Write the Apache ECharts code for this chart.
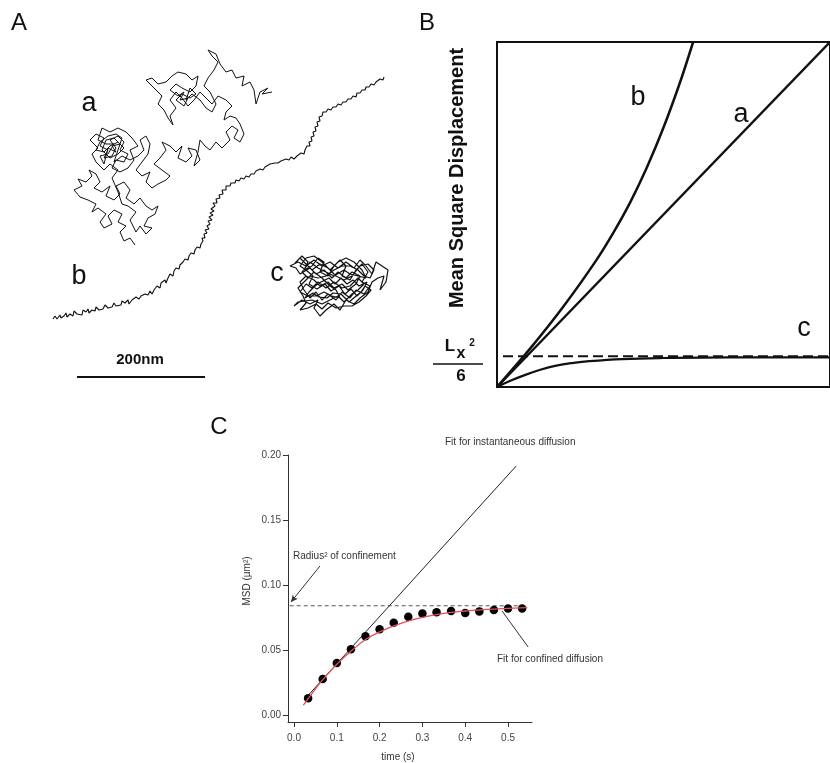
<!DOCTYPE html>
<html><head><meta charset="utf-8">
<script src="https://cdn.jsdelivr.net/npm/echarts@6/dist/echarts.min.js"></script>
<style>html,body{margin:0;padding:0;background:#fff}#c{width:830px;height:763px}</style>
</head><body><div id="c"></div>
<script>
// ---------- Panel A: single-particle trajectories (reference units; 128 units = 200 nm) ----------
const trajA = [[135,245],[130,238],[124,241],[120,232],[126,226],[118,222],[122,214],[114,210],[108,216],[112,224],[104,228],[100,222],[106,214],[98,208],[92,212],[96,204],[88,200],[80,197],[74,190],[82,186],[78,179],[86,182],[92,176],[89,170],[96,174],[100,182],[94,188],[102,192],[110,186],[106,196],[114,200],[120,194],[116,186],[124,182],[130,190],[126,198],[134,204],[140,198],[146,206],[152,210],[158,206],[155,214],[148,218],[144,226],[152,228],[146,234],[140,226],[136,232],[130,220],[136,212],[128,206],[122,204],[118,192],[112,178],[118,170],[110,164],[104,170],[96,162],[92,154],[98,148],[90,140],[96,134],[104,138],[100,146],[108,150],[104,158],[112,156],[116,148],[110,140],[118,136],[124,142],[120,150],[128,154],[124,162],[116,160],[112,168],[120,172],[128,168],[134,160],[130,150],[138,146],[132,138],[126,132],[118,128],[110,132],[102,128],[98,140],[106,144],[114,144],[108,154],[100,156],[104,164],[108,148],[116,152],[112,146],[120,144],[114,138],[106,140],[102,150],[110,158],[118,154],[124,148],[118,142],[110,146],[104,152],[96,150],[100,142],[108,136],[116,134],[122,138],[114,162],[122,156],[130,160],[138,156],[144,150],[140,140],[146,136],[150,144],[148,154],[142,162],[136,170],[142,176],[150,172],[146,182],[152,188],[158,184],[166,180],[170,176],[162,170],[154,164],[160,158],[166,150],[162,142],[170,146],[176,152],[182,146],[178,158],[186,162],[192,156],[188,148],[196,150],[200,160],[194,166],[198,152],[200,140],[205,146],[210,150],[216,142],[222,148],[230,140],[226,132],[232,126],[238,130],[234,138],[240,142],[244,134],[240,124],[236,118],[230,116],[224,120],[226,112],[232,106],[226,100],[218,96],[212,104],[206,98],[200,92],[194,100],[188,106],[182,98],[176,92],[170,100],[176,108],[170,116],[173,125],[168,118],[164,110],[158,104],[162,96],[156,90],[150,84],[146,80],[152,78],[158,84],[166,82],[172,76],[178,72],[186,74],[192,80],[198,76],[196,86],[190,92],[182,88],[176,84],[170,90],[178,96],[184,92],[180,100],[188,98],[184,106],[176,100],[182,94],[190,98],[196,94],[190,88],[186,100],[192,94],[200,100],[206,108],[212,112],[216,104],[210,92],[204,86],[208,78],[214,70],[218,62],[212,56],[208,50],[216,54],[220,64],[226,72],[232,70],[236,78],[244,76],[242,86],[250,82],[254,90],[256,104],[260,92],[268,88],[262,94],[272,92]];
const trajB = [[53,319],[55,316],[57,319],[60,315],[61,318],[64,316],[66,313],[67,317],[70,314],[73,316],[74,311],[77,314],[79,312],[82,315],[83,310],[86,312],[88,309],[89,313],[92,310],[95,311],[96,307],[99,310],[101,308],[103,309],[105,305],[108,308],[109,306],[112,307],[114,303],[116,306],[118,304],[121,305],[122,301],[125,303],[128,300],[129,304],[132,300],[134,301],[136,297],[139,299],[141,296],[143,298],[145,294],[148,295],[150,291],[152,294],[154,290],[156,291],[157,286],[160,288],[161,283],[163,285],[165,280],[166,283],[168,278],[170,279],[170,274],[173,276],[174,271],[176,272],[176,268],[179,269],[180,265],[181,267],[183,262],[185,263],[185,259],[188,260],[189,256],[191,258],[191,253],[194,254],[195,250],[197,251],[197,247],[200,248],[201,244],[199,242],[203,241],[202,238],[205,238],[204,234],[207,233],[205,230],[209,229],[207,226],[210,224],[208,221],[212,220],[209,217],[213,215],[210,213],[214,211],[211,209],[215,206],[213,203],[217,203],[216,199],[220,198],[219,195],[223,194],[222,190],[226,190],[226,186],[230,186],[231,183],[235,183],[236,180],[239,181],[241,178],[244,179],[246,176],[249,177],[251,174],[254,174],[256,171],[258,173],[260,169],[263,170],[265,167],[267,168],[270,164],[272,166],[275,163],[278,163],[281,161],[283,162],[286,159],[289,160],[291,157],[294,159],[297,156],[299,157],[301,153],[304,154],[305,150],[307,151],[307,146],[310,146],[309,142],[312,141],[311,137],[314,136],[313,132],[316,131],[315,127],[318,126],[317,122],[320,121],[319,117],[322,116],[323,112],[326,112],[328,109],[331,110],[333,107],[336,107],[338,104],[341,105],[343,102],[346,102],[348,99],[351,99],[353,96],[356,97],[357,93],[360,93],[362,90],[365,90],[366,87],[369,87],[371,84],[374,85],[376,82],[378,83],[380,79],[383,80],[384,77]];
const trajC = [[295,263],[302,256],[308,262],[304,270],[312,266],[318,258],[324,262],[320,272],[328,276],[334,266],[340,260],[346,266],[342,276],[350,280],[356,270],[362,264],[368,272],[362,282],[370,286],[364,294],[356,290],[350,298],[342,292],[336,300],[328,294],[322,300],[316,292],[310,298],[304,290],[300,282],[306,276],[314,280],[320,286],[328,282],[334,288],[342,284],[348,290],[356,284],[360,276],[352,272],[346,278],[338,272],[332,278],[324,270],[316,274],[310,268],[300,274],[296,268],[290,266],[298,262],[306,266],[314,260],[322,266],[330,262],[338,268],[346,262],[354,268],[360,260],[366,266],[372,274],[376,262],[388,270],[386,282],[380,290],[384,276],[378,278],[372,282],[368,292],[360,298],[354,304],[346,300],[340,310],[334,304],[326,310],[320,316],[314,308],[318,300],[310,304],[302,300],[294,306],[298,302],[312,300],[322,304],[330,300],[338,296],[344,302],[352,294],[358,290],[364,284],[358,278],[350,286],[342,288],[334,282],[326,288],[318,282],[312,288],[306,284],[300,292],[308,296],[316,296],[324,292],[332,296],[340,298],[336,290],[330,286],[322,278],[314,272],[308,278],[302,272],[310,262],[318,268],[326,272],[334,276],[344,270],[350,274],[358,276],[366,278],[362,270],[354,262],[346,258],[338,262],[330,270],[322,262],[314,256],[306,258],[300,266],[306,270],[313,276],[309,284],[317,289],[325,284],[331,291],[339,286],[345,294],[351,289],[357,296],[363,290],[367,282],[359,286],[353,280],[347,284],[341,278],[335,284],[329,278],[321,282],[315,286],[309,292],[305,298],[313,293],[319,297],[327,298],[333,293],[341,294],[349,302],[355,297],[361,292],[365,286],[371,290],[366,296],[359,302],[352,306],[344,306],[336,308],[328,303],[322,309],[316,304],[308,308],[300,310],[306,303],[303,296],[298,288],[304,282],[310,276],[318,278],[326,276],[334,270],[342,266],[350,266],[358,270],[364,276],[370,278],[374,270],[368,264],[360,266],[352,276],[344,280],[336,276],[328,268],[320,264],[312,270],[306,264],[300,258]];
const scaleBarStart = [77, 377];
const scaleBarUnits = 128;   // = 200 nm
const scaleBarLabel = '200nm';

// ---------- Panel B: schematic MSD curves (normalised) ----------
const msdNormal   = [[0,0],[1,1]];
const msdDirected = [[0,0],[0.1,0.112],[0.2,0.234],[0.3,0.37],[0.35,0.448],[0.4,0.535],[0.45,0.636],[0.5,0.752],[0.55,0.884],[0.589,1.0]];
const msdConfined = [[0,0],[0.04,0.018],[0.079,0.033],[0.13,0.050],[0.178,0.062],[0.23,0.070],[0.277,0.075],[0.377,0.081],[0.5,0.084],[0.7,0.086],[1,0.086]];
const plateauLevel = 0.089;

// ---------- Panel C: measured MSD ----------
const timeS = [0.033,0.067,0.100,0.133,0.167,0.200,0.233,0.267,0.300,0.333,0.367,0.400,0.433,0.467,0.500,0.533];
const msdUm2 = [0.0128,0.0277,0.0400,0.0505,0.0605,0.0660,0.0710,0.0756,0.0780,0.0790,0.0800,0.0785,0.0797,0.0808,0.0820,0.0820];
const confinedFitT = [0.022,0.033,0.05,0.067,0.1,0.133,0.167,0.2,0.25,0.3,0.35,0.4,0.45,0.5,0.545];
const confinedFitV = [0.0075,0.0125,0.0200,0.0270,0.0390,0.0490,0.0580,0.0640,0.0705,0.0750,0.0782,0.0800,0.0812,0.0820,0.0826];
const instantFit = [[0.030,0.014],[0.519,0.1915]];
const radiusSq = 0.084;
const xTicks = [0,0.1,0.2,0.3,0.4,0.5];
const yTicks = [0,0.05,0.10,0.15,0.20];

const FONT = '"Liberation Sans", Arial, Helvetica, sans-serif';
const chart = echarts.init(document.getElementById('c'), null, {renderer:'canvas'});

function txt(x, y, text, size, opts) {
  opts = opts || {};
  return {
    type:'text', x:x, y:y, rotation: opts.rotation || 0, silent:true,
    style:{ text:text, x:0, y:0, fill: opts.color || '#111',
      font: (opts.weight || 'normal') + ' ' + size + 'px ' + FONT,
      align: opts.align || 'center', textAlign: opts.align || 'center',
      verticalAlign:'middle', textVerticalAlign:'middle' }
  };
}

const msdLine = {width:2.5, color:'#111'};

const option = {
  backgroundColor:'#fff',
  animation:false,
  grid:[
    {left:0, top:0, width:415, height:400},
    {left:497, top:42, width:336, height:345, show:true, borderColor:'#111', borderWidth:2, backgroundColor:'transparent'},
    {left:288, top:455, width:244, height:267}
  ],
  xAxis:[
    {gridIndex:0, type:'value', min:0, max:415, show:false},
    {gridIndex:1, type:'value', min:0, max:1, show:false},
    {gridIndex:2, type:'value', min:-0.014, max:0.556,
      axisLine:{show:true, onZero:false, lineStyle:{color:'#333', width:1}},
      axisTick:{show:true, customValues:xTicks, length:5, lineStyle:{color:'#333'}},
      axisLabel:{customValues:xTicks, formatter:v=>v.toFixed(1), fontSize:10, color:'#444', margin:11, fontFamily:FONT},
      splitLine:{show:false}}
  ],
  yAxis:[
    {gridIndex:0, type:'value', min:0, max:400, inverse:true, show:false},
    {gridIndex:1, type:'value', min:0, max:1, show:false},
    {gridIndex:2, type:'value', min:-0.0054, max:0.2,
      axisLine:{show:true, onZero:false, lineStyle:{color:'#333', width:1}},
      axisTick:{show:true, customValues:yTicks, length:5, lineStyle:{color:'#333'}},
      axisLabel:{customValues:yTicks, formatter:v=>v.toFixed(2), fontSize:10, color:'#444', margin:7, fontFamily:FONT},
      splitLine:{show:false}}
  ],
  series:[
    // Panel A
    {type:'line', xAxisIndex:0, yAxisIndex:0, data:trajA, showSymbol:false, symbol:'none', lineStyle:{width:1, color:'#111'}, clip:false},
    {type:'line', xAxisIndex:0, yAxisIndex:0, data:trajB, showSymbol:false, symbol:'none', lineStyle:{width:1.1, color:'#111'}, clip:false},
    {type:'line', xAxisIndex:0, yAxisIndex:0, data:trajC, showSymbol:false, symbol:'none', lineStyle:{width:1.2, color:'#111'}, clip:false},
    {type:'line', xAxisIndex:0, yAxisIndex:0, data:[scaleBarStart, [scaleBarStart[0]+scaleBarUnits, scaleBarStart[1]]], symbol:'none', lineStyle:{width:2, color:'#111'}},
    // Panel B
    {type:'line', xAxisIndex:1, yAxisIndex:1, data:msdNormal, symbol:'none', lineStyle:msdLine},
    {type:'line', xAxisIndex:1, yAxisIndex:1, data:msdDirected, symbol:'none', smooth:0.3, lineStyle:msdLine},
    {type:'line', xAxisIndex:1, yAxisIndex:1, data:msdConfined, symbol:'none', smooth:0.4, lineStyle:{width:2.2, color:'#111'}},
    {type:'line', xAxisIndex:1, yAxisIndex:1, data:[[0.018,plateauLevel],[1,plateauLevel]], symbol:'none', lineStyle:{width:2, color:'#111', type:[10,5]}},
    // Panel C
    {type:'line', xAxisIndex:2, yAxisIndex:2, data:[[-0.01,radiusSq],[0.545,radiusSq]], symbol:'none', lineStyle:{width:1, color:'#555', type:[4,3]}},
    {type:'line', xAxisIndex:2, yAxisIndex:2, data:instantFit, symbol:'none', lineStyle:{width:1, color:'#222'}},
    {type:'scatter', xAxisIndex:2, yAxisIndex:2, data:timeS.map((t,i)=>[t, msdUm2[i]]), symbol:'circle', symbolSize:8.5, itemStyle:{color:'#000', opacity:1}, z:3},
    {type:'line', xAxisIndex:2, yAxisIndex:2, data:confinedFitT.map((t,i)=>[t, confinedFitV[i]]), symbol:'none', smooth:0.4, lineStyle:{width:1.3, color:'#e0505a'}, z:4},
    {type:'line', xAxisIndex:2, yAxisIndex:2, data:[], symbol:'none',
      markLine:{silent:true, animation:false, label:{show:false}, symbolSize:[5,7],
        data:[
          [{coord:[0.0607,0.1146], symbol:'none'},{coord:[-0.007,0.0869], symbol:'arrow'}],
          [{coord:[0.486,0.0800], symbol:'none'},{coord:[0.547,0.0523], symbol:'none'}]
        ],
        lineStyle:{type:'solid', color:'#333', width:1}}}
  ],
  graphic:[
    txt(19, 23, 'A', 24), txt(427, 23, 'B', 24), txt(219, 427, 'C', 24),
    txt(89, 104, 'a', 27), txt(79, 277, 'b', 27), txt(277, 274, 'c', 27),
    txt(140, 360, scaleBarLabel, 15, {weight:'bold'}),
    txt(638, 98, 'b', 27), txt(741, 115, 'a', 27), txt(804, 329, 'c', 27),
    txt(457, 178, 'Mean Square Displacement', 20, {weight:'bold', rotation:Math.PI/2}),
    txt(450, 346, 'L', 17, {weight:'bold'}), txt(461, 354, 'x', 16, {weight:'bold'}), txt(472, 343, '2', 10, {weight:'bold'}),
    {type:'line', silent:true, shape:{x1:433, y1:364, x2:483, y2:364}, style:{stroke:'#111', lineWidth:1.5}},
    txt(461, 376, '6', 17, {weight:'bold'}),
    txt(445, 442, 'Fit for instantaneous diffusion', 10, {align:'left', color:'#333'}),
    txt(293, 556, 'Radius² of confinement', 10, {align:'left', color:'#333'}),
    txt(497, 659, 'Fit for confined diffusion', 10, {align:'left', color:'#333'}),
    txt(247, 581, 'MSD (µm²)', 10, {rotation:Math.PI/2, color:'#333'}),
    txt(398, 757, 'time (s)', 10, {color:'#333'})
  ]
};
chart.setOption(option);
</script>
</body></html>
